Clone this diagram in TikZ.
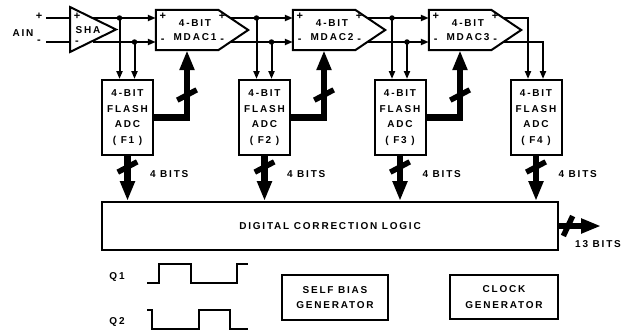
\documentclass[tikz,border=0pt]{standalone}
\usepackage{fontspec}
\setmainfont{Liberation Sans}[LetterSpace=18]
\usetikzlibrary{arrows.meta}

\begin{document}
\begin{tikzpicture}[x=1pt,y=-1pt,
          every node/.style={font=\bfseries\fontsize{10}{15.5}\selectfont},
          block/.style={draw,line width=2pt,inner sep=0pt,align=center},
          body/.style={inner sep=0pt,minimum width=62pt,minimum height=40pt},
          mdactext/.style={align=center,inner sep=0pt,
                           font=\bfseries\fontsize{10}{14}\selectfont},
          outline/.style={line width=2pt},
          sign/.style={inner sep=0pt,font=\bfseries\fontsize{11}{11}\selectfont},
          wire/.style={line width=2pt},
          arr/.style={wire,-{Triangle[length=8pt,width=6pt]}},
          bus/.style={line width=6.5pt,-{Triangle[length=20pt,width=14pt]}},
          slashmark/.style={fill,inner sep=0pt,minimum width=22pt,minimum height=5.5pt},
          vslash/.style={slashmark,rotate=28},
          hslash/.style={slashmark,rotate=65},
          dot/.style={circle,fill,inner sep=0pt,minimum size=5.5pt},
      ]
        \useasboundingbox (0,0) rectangle (634,335);

        % input and sample-and-hold
        \node (ain) at (23,33) {AIN};
        \node[sign] (ainp) at (39,16) {+};
        \node[sign] (ainn) at (39,42) {-};
        \coordinate (inp) at (46,18);
        \coordinate (inn) at (46,42);
        \draw[outline] (70,7) -- (116,29.5) -- (70,52) -- cycle;
        \node[inner sep=0.5pt] (sha) at (88,30) {SHA};
        \node[sign] (shap) at (77,16) {+};
        \node[sign] (shan) at (77,43) {-};
        \coordinate (shainp) at (70,18);
        \coordinate (shainn) at (70,42);
        \coordinate (shaoutp) at (93,18);
        \coordinate (shaoutn) at (93,42);
        \draw[wire] (inp) -- (shainp);
        \draw[wire] (inn) -- (shainn);

        % MDAC stages
        \node[body] (m1) at (187,30) {};
        \node[body] (m2) at (324,30) {};
        \node[body] (m3) at (460,30) {};
        \draw[outline] (m1.north west) -- (m1.north east) -- ([shift={(30,0)}]m1.east)
          -- (m1.south east) -- (m1.south west) -- cycle;
        \draw[outline] (m2.north west) -- (m2.north east) -- ([shift={(30,0)}]m2.east)
          -- (m2.south east) -- (m2.south west) -- cycle;
        \draw[outline] (m3.north west) -- (m3.north east) -- ([shift={(30,0)}]m3.east)
          -- (m3.south east) -- (m3.south west) -- cycle;
        \node[mdactext] (m1t) at ([shift={(8,0)}]m1.center) {4-BIT\\MDAC1};
        \node[mdactext] (m2t) at ([shift={(8,0)}]m2.center) {4-BIT\\MDAC2};
        \node[mdactext] (m3t) at ([shift={(8,0)}]m3.center) {4-BIT\\MDAC3};
        \node[sign] (m1ip) at ([shift={(7,-14)}]m1.west) {+};
        \node[sign] (m1in) at ([shift={(7,11)}]m1.west) {-};
        \node[sign] (m1op) at ([shift={(4,-14)}]m1.east) {+};
        \node[sign] (m1on) at ([shift={(4,11)}]m1.east) {-};
        \node[sign] (m2ip) at ([shift={(7,-14)}]m2.west) {+};
        \node[sign] (m2in) at ([shift={(7,11)}]m2.west) {-};
        \node[sign] (m2op) at ([shift={(4,-14)}]m2.east) {+};
        \node[sign] (m2on) at ([shift={(4,11)}]m2.east) {-};
        \node[sign] (m3ip) at ([shift={(7,-14)}]m3.west) {+};
        \node[sign] (m3in) at ([shift={(7,11)}]m3.west) {-};
        \node[sign] (m3op) at ([shift={(4,-14)}]m3.east) {+};
        \node[sign] (m3on) at ([shift={(4,11)}]m3.east) {-};

        % flash ADCs
        \node[block,minimum width=51pt,minimum height=75pt] (f1) at (127.5,117.5)
          {4-BIT\\FLASH\\ADC\\( F1 )};
        \node[block,minimum width=51pt,minimum height=75pt] (f2) at (264.5,117.5)
          {4-BIT\\FLASH\\ADC\\( F2 )};
        \node[block,minimum width=51pt,minimum height=75pt] (f3) at (400,117.5)
          {4-BIT\\FLASH\\ADC\\( F3 )};
        \node[block,minimum width=51pt,minimum height=75pt] (f4) at (536,117.5)
          {4-BIT\\FLASH\\ADC\\( F4 )};

        % differential signal path
        \draw[arr] (shaoutp) -- ([shift={(0,-12)}]m1.west);
        \draw[arr] (shaoutn) -- ([shift={(0,12)}]m1.west);
        \draw[arr] ([shift={(12,-12)}]m1.east) -- ([shift={(0,-12)}]m2.west);
        \draw[arr] ([shift={(12,12)}]m1.east) -- ([shift={(0,12)}]m2.west);
        \draw[arr] ([shift={(12,-12)}]m2.east) -- ([shift={(0,-12)}]m3.west);
        \draw[arr] ([shift={(12,12)}]m2.east) -- ([shift={(0,12)}]m3.west);
        \draw[arr] ([shift={(12,-12)}]m3.east) -| ([shift={(-8,0)}]f4.north);
        \draw[arr] ([shift={(12,12)}]m3.east) -| ([shift={(7,0)}]f4.north);

        % taps to the flash ADCs
        \node[dot] (j1) at (119.5,18) {};
        \node[dot] (k1) at (134.5,42) {};
        \node[dot] (j2) at (256.5,18) {};
        \node[dot] (k2) at (271.5,42) {};
        \node[dot] (j3) at (392,18) {};
        \node[dot] (k3) at (407,42) {};
        \draw[arr] (j1.center) -- (j1 |- f1.north);
        \draw[arr] (k1.center) -- (k1 |- f1.north);
        \draw[arr] (j2.center) -- (j2 |- f2.north);
        \draw[arr] (k2.center) -- (k2 |- f2.north);
        \draw[arr] (j3.center) -- (j3 |- f3.north);
        \draw[arr] (k3.center) -- (k3 |- f3.north);

        % flash codes back to the MDACs
        \draw[bus] (f1.east) -| (m1.south);
        \draw[bus] (f2.east) -| (m2.south);
        \draw[bus] (f3.east) -| (m3.south);
        \node[vslash] (s1) at (187,95) {};
        \node[vslash] (s2) at (324,95) {};
        \node[vslash] (s3) at (460,95) {};

        % correction logic
        \node[block,minimum width=456pt,minimum height=48pt] (dcl) at (330,226)
          {DIGITAL CORRECTION LOGIC};
        \draw[bus] (f1.south) -- (f1.south |- dcl.north);
        \draw[bus] (f2.south) -- (f2.south |- dcl.north);
        \draw[bus] (f3.south) -- (f3.south |- dcl.north);
        \draw[bus] (f4.south) -- (f4.south |- dcl.north);
        \node[vslash] (t1) at (127.5,167) {};
        \node[vslash] (t2) at (264.5,167) {};
        \node[vslash] (t3) at (400,167) {};
        \node[vslash] (t4) at (536,167) {};
        \node[anchor=west] (b1) at ([shift={(19,18)}]f1.south) {4 BITS};
        \node[anchor=west] (b2) at ([shift={(19,18)}]f2.south) {4 BITS};
        \node[anchor=west] (b3) at ([shift={(19,18)}]f3.south) {4 BITS};
        \node[anchor=west] (b4) at ([shift={(19,18)}]f4.south) {4 BITS};
        \coordinate (dout) at (601,226);
        \draw[bus] (dcl.east) -- (dout);
        \node[hslash] (u1) at (568,226) {};
        \node (b13) at (598,244) {13 BITS};

        % clock phases
        \node (q1) at (117,277) {Q1};
        \node (q2) at (117,322) {Q2};
        \draw[wire] (147,283) -- (159,283) -- (159,264) -- (191,264) -- (191,283)
          -- (237,283) -- (237,264) -- (248,264);
        \draw[wire] (147,310) -- (152,310) -- (152,329) -- (199,329) -- (199,310)
          -- (230,310) -- (230,329) -- (248,329);

        \node[block,minimum width=106pt,minimum height=45pt] (bias) at (335,297.5)
          {SELF BIAS\\GENERATOR};
        \node[block,minimum width=108pt,minimum height=44pt] (clk) at (504,297)
          {CLOCK\\GENERATOR};
      \end{tikzpicture}
\end{document}
